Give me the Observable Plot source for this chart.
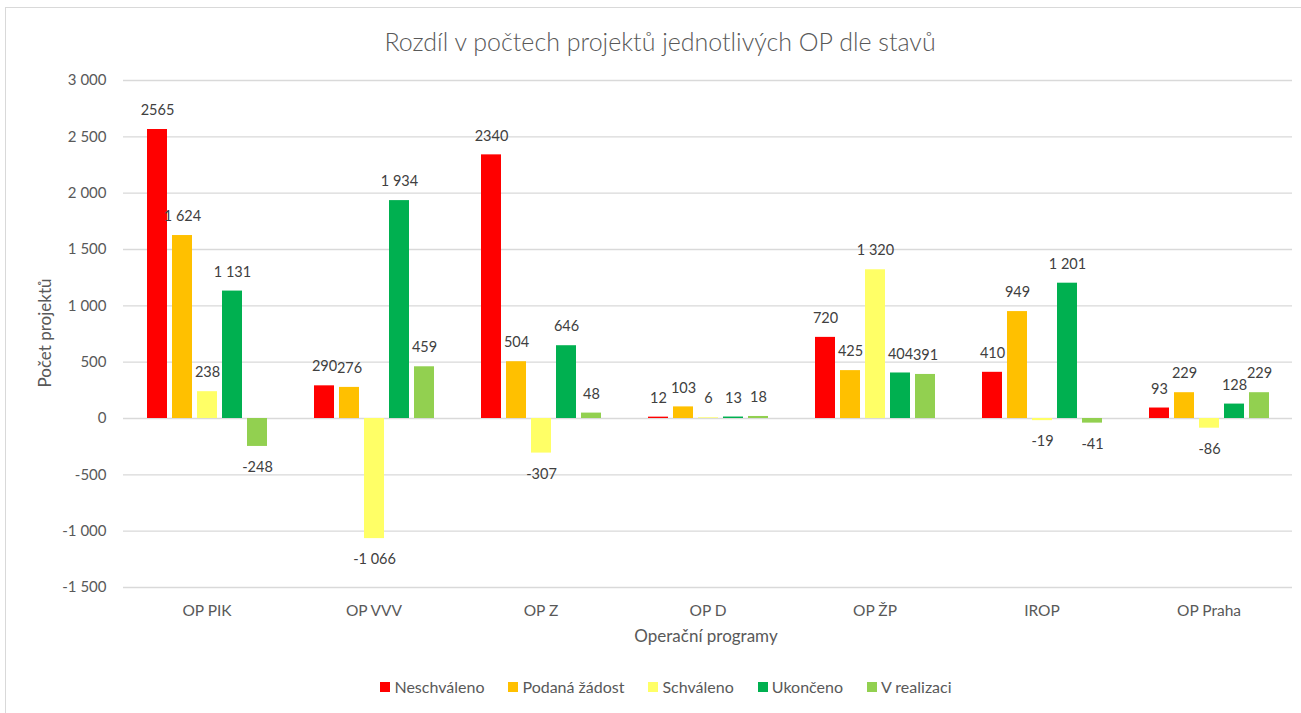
<!DOCTYPE html>
<html><head><meta charset="utf-8">
<script src="https://cdn.jsdelivr.net/npm/d3@7"></script>
<script src="https://cdn.jsdelivr.net/npm/@observablehq/plot@0.6"></script>
<style>
body{margin:0;background:#fff;font-family:Lato,"Open Sans",sans-serif;}
#wrap{position:relative;width:1301px;height:713px;overflow:hidden;background:#fff}
#border{position:absolute;left:5px;top:7px;width:1400px;height:800px;border-top:1.5px solid #d9d9d9;border-left:1.5px solid #d9d9d9}
#title{position:absolute;top:26px;left:0;width:1320px;text-align:center;font-size:25px;font-weight:300;color:#595959}
#chart{position:absolute;left:0;top:60px}
#xtitle{position:absolute;top:625px;left:0;width:1412px;text-align:center;font-size:17px;color:#595959}
#ytitle{position:absolute;left:44px;top:333px;transform:translate(-50%,-50%) rotate(-90deg);white-space:nowrap;font-size:17px;color:#595959}
#legend{position:absolute;top:677px;left:0;width:1332px;display:flex;justify-content:center;gap:24px;font-size:16px;color:#595959}
#legend .it{display:flex;align-items:center;gap:4px}
#legend .sw{width:10px;height:10px;display:inline-block}
</style></head>
<body>
<div id="wrap">
<div id="border"></div>
<div id="title">Rozdíl v počtech projektů jednotlivých OP dle stavů</div>
<div id="chart"></div>
<div id="xtitle">Operační programy</div>
<div id="ytitle">Počet projektů</div>
<div id="legend"></div>
</div>
<script>
const ops = ["OP PIK","OP VVV","OP Z","OP D","OP ŽP","IROP","OP Praha"];
const series = ["Neschváleno","Podaná žádost","Schváleno","Ukončeno","V realizaci"];
const colors = ["#FF0000","#FFC000","#FFFF66","#00B050","#92D050"];
const neschvaleno = [2565,290,2340,12,720,410,93];
const podanaZadost = [1624,276,504,103,425,949,229];
const schvaleno = [238,-1066,-307,6,1320,-19,-86];
const ukonceno = [1131,1934,646,13,404,1201,128];
const vRealizaci = [-248,459,48,18,391,-41,229];
const yTicks = [-1500,-1000,-500,0,500,1000,1500,2000,2500,3000];

const values = [neschvaleno, podanaZadost, schvaleno, ukonceno, vRealizaci];
const spaced = v => (v < 0 ? "-" : "") + d3.format(",")(Math.abs(v)).replace(/,/g, " ");
const rows = [];
series.forEach((s, si) => ops.forEach((op, oi) => {
  const v = values[si][oi];
  rows.push({op, series: s, value: v, label: si === 0 ? String(v) : spaced(v)});
}));

const font = "Lato, 'Open Sans', sans-serif";
const chart = Plot.plot({
  width: 1301, height: 600,
  marginTop: 20, marginBottom: 73, marginLeft: 121, marginRight: 8,
  style: {fontFamily: font, fontSize: "15px", color: "#595959", background: "transparent"},
  fx: {domain: ops, padding: 0, label: null},
  x: {domain: series, paddingInner: 0.2, paddingOuter: 0.85, axis: null},
  y: {domain: [-1500, 3000], label: null},
  color: {domain: series, range: colors},
  marks: [
    Plot.gridY(yTicks, {stroke: "#d9d9d9", strokeOpacity: 1, strokeWidth: 1.3}),
    Plot.axisY(yTicks, {tickSize: 0, tickPadding: 17, tickFormat: spaced, fontSize: 15, fill: "#595959", label: null}),
    Plot.axisFx({anchor: "bottom", tickSize: 0, tickPadding: 17, fontSize: 15.5, fill: "#595959", label: null}),
    Plot.barY(rows, {fx: "op", x: "series", y: "value", fill: "series"}),
    Plot.text(rows.filter(d => d.value >= 0), {fx: "op", x: "series", y: "value", text: "label",
      dy: -19, fontSize: 14.5, fill: "#404040"}),
    Plot.text(rows.filter(d => d.value < 0), {fx: "op", x: "series", y: "value", text: "label",
      dy: 21, fontSize: 14.5, fill: "#404040"})
  ]
});
document.getElementById("chart").appendChild(chart);

const leg = document.getElementById("legend");
series.forEach((s, i) => {
  const it = document.createElement("div");
  it.className = "it";
  it.innerHTML = `<span class="sw" style="background:${colors[i]}"></span><span>${s}</span>`;
  leg.appendChild(it);
});
</script>
</body></html>
